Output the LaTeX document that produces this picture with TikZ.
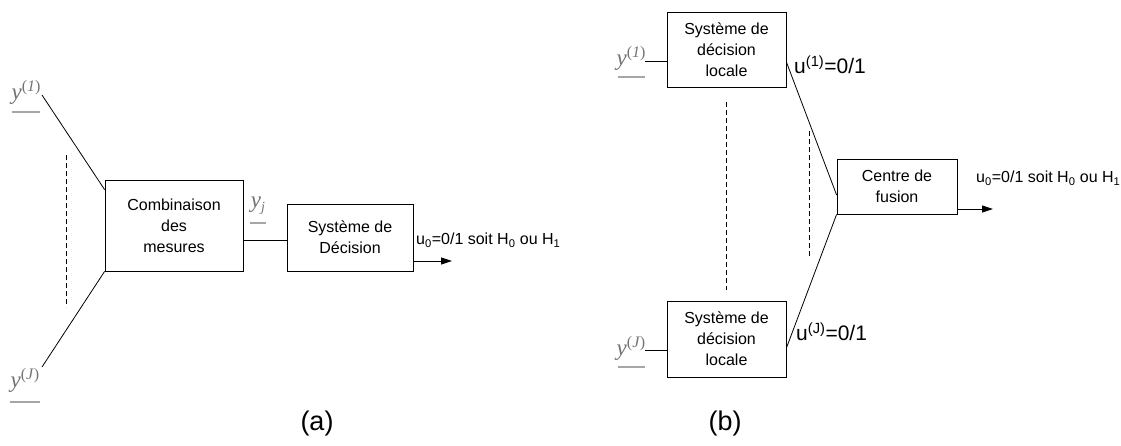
\documentclass[tikz,border=0pt]{standalone}
\usepackage{fontspec}
\setmainfont{Liberation Sans}
\newfontfamily\yfont{Liberation Serif}
\usetikzlibrary{arrows.meta,calc}
\newcommand{\yup}[1]{{\yfont\itshape y}\raisebox{8pt}{\yfont\fontsize{16}{16}\selectfont(\textit{#1})}}
\begin{document}
\begin{tikzpicture}[x=1pt,y=-1pt,
  box/.style={draw, line width=0.8pt, inner sep=0pt, align=center,
    font=\fontsize{16}{21}\selectfont},
  conn/.style={line width=0.8pt},
  dashline/.style={line width=0.8pt, dash pattern=on 5pt off 3pt},
  arr/.style={line width=0.8pt, -{Triangle[length=11pt,width=7pt]}},
  ylab/.style={text=black!55, inner sep=0pt, font=\fontsize{23}{23}\selectfont},
  uline/.style={draw=black!35, line width=1.2pt},
  lab/.style={inner sep=0pt, anchor=west, font=\fontsize{16}{16}\selectfont},
  biglab/.style={inner sep=0pt, anchor=west, font=\fontsize{21}{21}\selectfont},
  captionlab/.style={inner sep=0pt, font=\fontsize{27}{27}\selectfont}]
\useasboundingbox (0,0) rectangle (1121,445);
\fill[white] (0,0) rectangle (1121,445);

% ---------- (a) ----------
\node[box, minimum width=138pt, minimum height=91pt] (comb) at (174,225.5) {Combinaison\\des\\mesures};
\node[box, minimum width=126pt, minimum height=67pt] (dec) at (350,237.5) {Système de\\Décision};

\node[ylab] (y1a) at (26,92) {\yup{1}};
\draw[uline] (12,112) -- (40,112);
\node[ylab] (yJa) at (25,380) {\yup{J}};
\draw[uline] (10,402) -- (40,402);
\node[ylab] (yja) at (258,206) {{\yfont\itshape y}\raisebox{-4pt}{\yfont\fontsize{14}{14}\selectfont\itshape j}};
\draw[uline] (250,223) -- (266,223);

\coordinate (a1) at (42,95);
\coordinate (a2) at (42,367);
\draw[conn] (a1) -- ([yshift=-10pt]comb.north west);
\draw[conn] (a2) -- (comb.south west);
\draw[dashline] (66,155) -- (66,307);
\draw[conn] ([yshift=-14.5pt]comb.east) -- ([yshift=-14.5pt]comb.east -| dec.west);
\coordinate (outa) at (452,261);
\draw[arr] (dec.east |- outa) -- (outa);
\node[lab] (u0a) at (416,240) {u\textsubscript{0}=0/1 soit H\textsubscript{0} ou H\textsubscript{1}};

\node[captionlab] (capa) at (317,424) {(a)};

% ---------- (b) ----------
\node[box, minimum width=119pt, minimum height=75pt] (loc1) at (726.5,49.5) {Système de\\décision\\locale};
\node[box, minimum width=119pt, minimum height=76pt] (loc2) at (726.5,339) {Système de\\décision\\locale};
\node[box, minimum width=120pt, minimum height=55pt] (fus) at (897,186.5) {Centre de\\fusion};

\node[ylab] (y1b) at (631,58) {\yup{1}};
\draw[uline] (618,77) -- (645,77);
\node[ylab] (yJb) at (631,348) {\yup{J}};
\draw[uline] (618,367) -- (645,367);

\draw[conn] (645,61) -- (loc1.west |- 0,61);
\draw[conn] (645,350) -- (loc2.west |- 0,350);

\node[biglab] (u1) at (794,65) {u\textsuperscript{(1)}=0/1};
\node[biglab] (uJ) at (796,332) {u\textsuperscript{(J)}=0/1};

\draw[conn] ([yshift=-12.5pt]loc1.east) -- ([yshift=-8.5pt]fus.west);
\draw[conn] (fus.south west) -- ([yshift=-9pt]loc2.east);

\draw[dashline] (726,102) -- (726,290);
\draw[dashline] (809,131) -- (809,256);

\coordinate (outb) at (993,209);
\draw[arr] (fus.east |- outb) -- (outb);
\node[lab] (u0b) at (976,178) {u\textsubscript{0}=0/1 soit H\textsubscript{0} ou H\textsubscript{1}};

\node[captionlab] (capb) at (725,424) {(b)};
\end{tikzpicture}
\end{document}
